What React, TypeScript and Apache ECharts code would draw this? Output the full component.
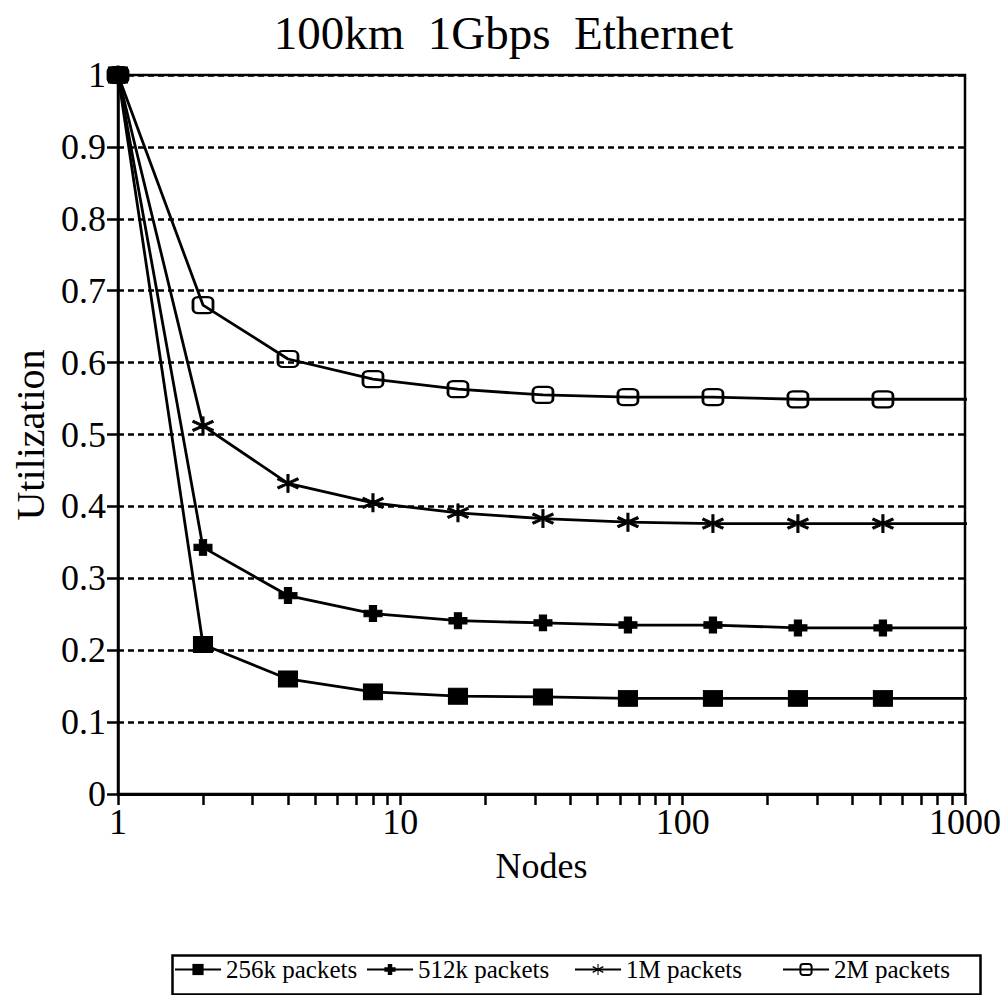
import React, { useEffect, useRef } from 'react';
import * as echarts from 'echarts';

const nodes = [1, 2, 4, 8, 16, 32, 64, 128, 256, 512, 1024];
const u256k = [1, 0.208, 0.160, 0.142, 0.136, 0.135, 0.133, 0.133, 0.133, 0.133, 0.133];
const u512k = [1, 0.343, 0.276, 0.251, 0.241, 0.238, 0.235, 0.235, 0.231, 0.231, 0.231];
const u1M = [1, 0.512, 0.432, 0.405, 0.391, 0.383, 0.378, 0.376, 0.376, 0.376, 0.376];
const u2M = [1, 0.680, 0.605, 0.577, 0.563, 0.555, 0.552, 0.552, 0.549, 0.549, 0.549];
const seriesNames = ['256k packets', '512k packets', '1M packets', '2M packets'];
const xLabelTicks = [1, 10, 100, 1000];
const xTickValues = [1, 2, 3, 4, 5, 6, 7, 8, 9, 10, 20, 30, 40, 50, 60, 70, 80, 90, 100, 200, 300, 400, 500, 600, 700, 800, 900, 1000];
const titleText = '100km  1Gbps  Ethernet';
const xAxisTitle = 'Nodes';
const yAxisTitle = 'Utilization';

const FONT = '"Liberation Serif", "Times New Roman", serif';

const PLUS = 'path://M3,0H7V3H10V7H7V10H3V7H0V3H3Z';
const STAR =
  'path://M9,0H11V20H9Z M0.54,3.93L20.54,13.93L19.46,16.07L-0.54,6.07Z M-0.54,13.93L19.46,3.93L20.54,6.07L0.54,16.07Z';

function buildData(vals: number[]) {
  return nodes.map((n, i) =>
    i === nodes.length - 1 ? { value: [n, vals[i]], symbol: 'none' } : { value: [n, vals[i]] }
  );
}

const legendLefts = [174, 366, 574, 782];

export default function App() {
  const ref = useRef<HTMLDivElement>(null);
  useEffect(() => {
    if (!ref.current) return;
    const chart = echarts.init(ref.current, undefined, { renderer: 'svg' });
    const base = {
      type: 'line',
      lineStyle: { color: '#000', width: 2.8 },
      itemStyle: { color: '#000', borderColor: '#000' },
      z: 3,
    };
    chart.setOption({
      animation: false,
      backgroundColor: '#fff',
      textStyle: { fontFamily: FONT, color: '#000000' },
      title: {
        text: titleText,
        left: 'center',
        top: 4,
        textStyle: { fontFamily: FONT, fontSize: 47, fontWeight: 'normal', color: '#000' },
      },
      grid: {
        left: 118,
        right: 42,
        top: 75,
        bottom: 201,
        show: true,
        borderColor: '#000',
        borderWidth: 2.5,
        backgroundColor: 'transparent',
      },
      legend: seriesNames.map((nm, i) => ({
        left: legendLefts[i],
        top: 957,
        padding: 0,
        itemWidth: 46,
        itemHeight: 14,
        textStyle: { fontFamily: FONT, fontSize: 25, color: '#000' },
        data: [nm],
      })),
      graphic: [
        {
          type: 'rect',
          left: 170,
          top: 953,
          shape: { width: 808, height: 39 },
          style: { fill: 'none', stroke: '#000', lineWidth: 2.5 },
        },
        {
          type: 'text',
          x: 30,
          y: 435,
          rotation: Math.PI / 2,
          style: {
            text: yAxisTitle,
            fill: '#000000',
            font: '40px "Liberation Serif", serif',
            align: 'center',
            verticalAlign: 'middle',
          },
        },
      ],
      xAxis: {
        type: 'log',
        logBase: 10,
        min: 1,
        max: 1000,
        name: xAxisTitle,
        nameLocation: 'middle',
        nameGap: 54,
        nameTextStyle: { fontFamily: FONT, fontSize: 36, color: '#000000' },
        axisLine: { lineStyle: { color: '#000', width: 3 } },
        axisTick: { show: true, inside: false, length: 11, customValues: xTickValues, lineStyle: { color: '#000', width: 2.5 } },
        axisLabel: {
          customValues: xLabelTicks,
          formatter: (v: number) => String(v),
          fontFamily: FONT,
          fontSize: 36,
          color: '#000',
          margin: 10,
        },
        splitLine: { show: false },
        minorTick: { show: false },
      },
      yAxis: {
        type: 'value',
        min: 0,
        max: 1,
        interval: 0.1,
        axisLine: { show: true, lineStyle: { color: '#000', width: 2.5 } },
        axisTick: { show: true, inside: false, length: 11, lineStyle: { color: '#000', width: 2.5 } },
        axisLabel: { fontFamily: FONT, fontSize: 36, color: '#000', margin: 12 },
        splitLine: { show: true, lineStyle: { color: '#000', width: 2.5, type: [6, 4] } },
      },
      series: [
        { ...base, name: seriesNames[0], data: buildData(u256k), symbol: 'rect', symbolSize: [19, 16] },
        { ...base, name: seriesNames[1], data: buildData(u512k), symbol: PLUS, symbolSize: [18, 16] },
        { ...base, name: seriesNames[2], data: buildData(u1M), symbol: STAR, symbolSize: [21, 18] },
        {
          ...base,
          name: seriesNames[3],
          data: buildData(u2M),
          symbol: 'roundRect',
          symbolSize: [20, 16],
          itemStyle: { color: 'rgba(0,0,0,0)', borderColor: '#000', borderWidth: 2.5 },
        },
      ],
    });
    return () => chart.dispose();
  }, []);
  return (
    <div
      ref={ref}
      style={{ position: 'absolute', left: 0, top: 0, width: 1007, height: 995, background: '#fff' }}
    />
  );
}
